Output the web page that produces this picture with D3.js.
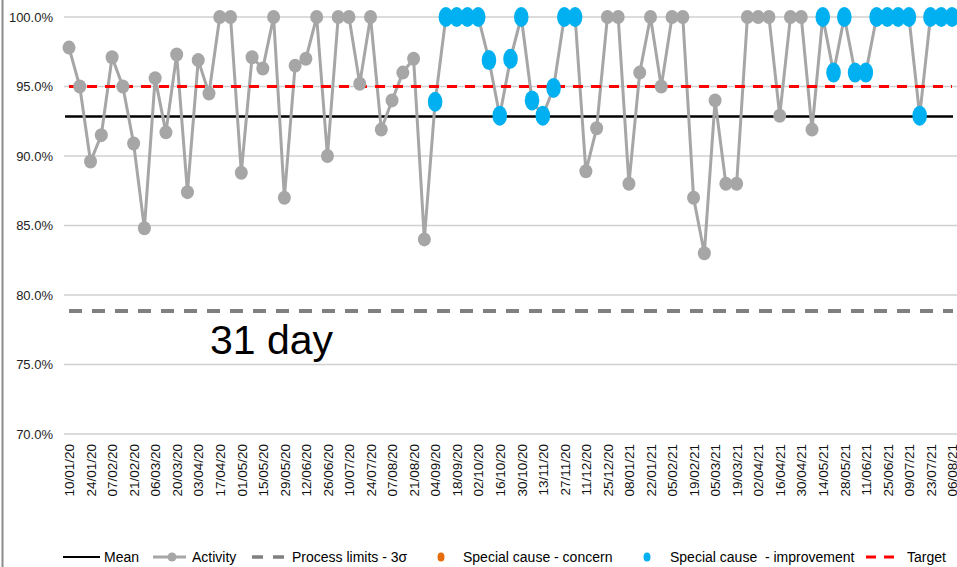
<!DOCTYPE html>
<html>
<head>
<meta charset="utf-8">
<script src="https://cdn.jsdelivr.net/npm/d3@7"></script>
<style>
  body { margin: 0; background: #fff; }
  svg { display: block; }
  text { font-family: "Liberation Sans", Arial, sans-serif; }
</style>
</head>
<body>
<div id="chart"></div>
<script>
// weekly data, 10/01/20 .. 06/08/21
const startDate = new Date(2020, 0, 10)
const activity = [
  97.8, 95.0, 89.6, 91.5, 97.1, 95.0, 90.9, 84.8, 95.6, 91.7,
  97.3, 87.4, 96.9, 94.5, 100, 100, 88.8, 97.1, 96.3, 100,
  87.0, 96.5, 97.0, 100, 90.0, 100, 100, 95.2, 100, 91.9,
  94.0, 96.0, 97.0, 84.0, 93.9, 100, 100, 100, 100, 96.9,
  92.9, 97.0, 100, 94.0, 92.9, 94.9, 100, 100, 88.9, 92.0,
  100, 100, 88.0, 96.0, 100, 95.0, 100, 100, 87.0, 83.0,
  94.0, 88.0, 88.0, 100, 100, 100, 92.9, 100, 100, 91.9,
  100, 96.0, 100, 96.0, 96.0, 100, 100, 100, 100, 92.9,
  100, 100, 100
]
// indexes flagged as special cause - improvement
const improvement = [34, 35, 36, 37, 38, 39, 40, 41, 42, 43, 44, 45, 46, 47,
  70, 71, 72, 73, 74, 75, 76, 77, 78, 79, 80, 81, 82]
const meanValue = 92.85
const lowerLimit = 78.85
const targetValue = 95
const yTicks = [70, 75, 80, 85, 90, 95, 100]

const W = 957, H = 567
const margin = { top: 17, right: 5, bottom: 133, left: 64 }

const dates = activity.map((v, i) => d3.timeDay.offset(startDate, i * 7))
const fmt = d3.timeFormat('%d/%m/%y')

const svg = d3.select('#chart').append('svg')
  .attr('width', W)
  .attr('height', H)

// left frame edge
svg.append('line')
  .attr('x1', 2.5).attr('x2', 2.5).attr('y1', 0).attr('y2', H)
  .attr('stroke', '#8c8c8c').attr('stroke-width', 2)

const x = d3.scalePoint()
  .domain(d3.range(activity.length))
  .range([69, 952])
const y = d3.scaleLinear()
  .domain([70, 100])
  .range([434, 17])

// grid
svg.append('g')
  .selectAll('line')
  .data(yTicks)
  .enter().append('line')
  .attr('x1', margin.left).attr('x2', W)
  .attr('y1', d => y(d)).attr('y2', d => y(d))
  .attr('stroke', '#d0d0d0').attr('stroke-width', 1.3)

// y axis labels
const yAxis = d3.axisLeft(y).tickValues(yTicks).tickSize(0).tickPadding(0)
  .tickFormat(d => d.toFixed(1) + '%')
const yg = svg.append('g').attr('transform', 'translate(53,0)').call(yAxis)
yg.select('.domain').remove()
yg.selectAll('text').attr('font-size', 13).attr('fill', '#222')
  .style('font-family', '"Liberation Sans", Arial, sans-serif')

// x axis labels, every second week
const xAxis = d3.axisBottom(x)
  .tickValues(d3.range(0, activity.length, 2))
  .tickSize(0)
  .tickFormat(i => fmt(dates[i]))
const xg = svg.append('g').attr('transform', 'translate(0,440)').call(xAxis)
xg.select('.domain').remove()
xg.selectAll('text')
  .attr('transform', 'rotate(-90)')
  .attr('text-anchor', 'end')
  .attr('x', -4)
  .attr('y', 0)
  .attr('dy', '0.35em')
  .attr('font-size', 13.5)
  .attr('fill', '#111')
  .style('font-family', '"Liberation Sans", Arial, sans-serif')

// reference lines
svg.append('line')
  .attr('x1', 69).attr('x2', 953)
  .attr('y1', y(lowerLimit)).attr('y2', y(lowerLimit))
  .attr('stroke', '#808080').attr('stroke-width', 4)
  .attr('stroke-dasharray', '13,10')
svg.append('line')
  .attr('x1', 65).attr('x2', 953)
  .attr('y1', y(meanValue)).attr('y2', y(meanValue))
  .attr('stroke', '#000').attr('stroke-width', 2.5)

// activity line
const line = d3.line()
  .x((d, i) => x(i))
  .y(d => y(d))
svg.append('path')
  .datum(activity)
  .attr('d', line)
  .attr('fill', 'none')
  .attr('stroke', '#a6a6a6')
  .attr('stroke-width', 3)

// target line
svg.append('line')
  .attr('x1', 69).attr('x2', 952)
  .attr('y1', y(targetValue)).attr('y2', y(targetValue))
  .attr('stroke', '#ff0000').attr('stroke-width', 3)
  .attr('stroke-dasharray', '10,8')

// markers
svg.append('g')
  .selectAll('ellipse')
  .data(activity)
  .enter().append('ellipse')
  .attr('cx', (d, i) => x(i))
  .attr('cy', d => y(d))
  .attr('rx', 6.5).attr('ry', 7)
  .attr('fill', '#a6a6a6')

svg.append('g')
  .selectAll('ellipse')
  .data(improvement)
  .enter().append('ellipse')
  .attr('cx', i => x(i))
  .attr('cy', i => y(activity[i]))
  .attr('rx', 7.3).attr('ry', 10)
  .attr('fill', '#00b0f0')

// label
svg.append('text')
  .attr('x', 210).attr('y', 354)
  .attr('font-size', 41)
  .attr('fill', '#000')
  .text('31 day')

// legend
const lg = svg.append('g')
const ly = 557
const fs = 14
lg.append('line').attr('x1', 63).attr('x2', 100).attr('y1', ly).attr('y2', ly)
  .attr('stroke', '#000').attr('stroke-width', 2)
lg.append('text').attr('x', 104).attr('y', ly + 5).attr('font-size', fs).text('Mean')

lg.append('line').attr('x1', 153).attr('x2', 186).attr('y1', ly).attr('y2', ly)
  .attr('stroke', '#a6a6a6').attr('stroke-width', 3)
lg.append('circle').attr('cx', 172).attr('cy', ly).attr('r', 4.5).attr('fill', '#a6a6a6')
lg.append('text').attr('x', 192).attr('y', ly + 5).attr('font-size', fs).text('Activity')

lg.append('line').attr('x1', 252).attr('x2', 286).attr('y1', ly).attr('y2', ly)
  .attr('stroke', '#808080').attr('stroke-width', 3.5).attr('stroke-dasharray', '11,10')
lg.append('text').attr('x', 292).attr('y', ly + 5).attr('font-size', fs).text('Process limits - 3σ')

lg.append('ellipse').attr('cx', 441).attr('cy', ly).attr('rx', 3.5).attr('ry', 4.5).attr('fill', '#e46c0a')
lg.append('text').attr('x', 463).attr('y', ly + 5).attr('font-size', fs).text('Special cause - concern')

lg.append('ellipse').attr('cx', 647).attr('cy', ly).attr('rx', 3.5).attr('ry', 4.5).attr('fill', '#00b0f0')
lg.append('text').attr('x', 670).attr('y', ly + 5).attr('font-size', fs).attr('xml:space', 'preserve')
  .text('Special cause  - improvement')

lg.append('line').attr('x1', 866).attr('x2', 894).attr('y1', ly).attr('y2', ly)
  .attr('stroke', '#ff0000').attr('stroke-width', 3).attr('stroke-dasharray', '10,8')
lg.append('text').attr('x', 907).attr('y', ly + 5).attr('font-size', fs).text('Target')
</script>
</body>
</html>
